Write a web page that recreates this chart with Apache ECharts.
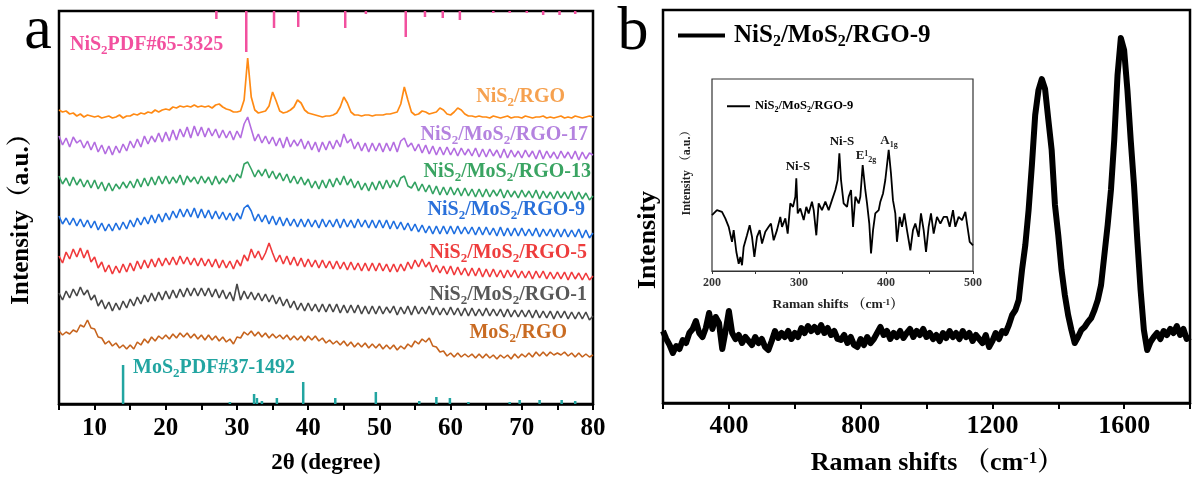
<!DOCTYPE html>
<html><head><meta charset="utf-8">
<script src="https://cdn.jsdelivr.net/npm/echarts@6/dist/echarts.min.js"></script>
<style>html,body{margin:0;padding:0;background:#fff}#c{width:1193px;height:479px}</style>
</head><body><div id="c"></div>
<script>
// ---------- Panel a: XRD ----------
const twoTheta = [5,5.5,6,6.5,7,7.5,8,8.5,9,9.5,10,10.5,11,11.5,12,12.5,13,13.5,14,14.5,15,15.5,16,16.5,17,17.5,18,18.5,19,19.5,20,20.5,21,21.5,22,22.5,23,23.5,24,24.5,25,25.5,26,26.5,27,27.5,28,28.5,29,29.5,30,30.5,31,31.5,32,32.5,33,33.5,34,34.5,35,35.5,36,36.5,37,37.5,38,38.5,39,39.5,40,40.5,41,41.5,42,42.5,43,43.5,44,44.5,45,45.5,46,46.5,47,47.5,48,48.5,49,49.5,50,50.5,51,51.5,52,52.5,53,53.5,54,54.5,55,55.5,56,56.5,57,57.5,58,58.5,59,59.5,60,60.5,61,61.5,62,62.5,63,63.5,64,64.5,65,65.5,66,66.5,67,67.5,68,68.5,69,69.5,70,70.5,71,71.5,72,72.5,73,73.5,74,74.5,75,75.5,76,76.5,77,77.5,78,78.5,79,79.5,80];
const nis2RGO = [294,292,293,290,291,288,290,287,289,288, 287,288,286,287,288,286,287,289,286,288, 288,290,289,291,290,292,291,294,292,294, 295,294,297,296,298,297,298,297,299,297, 298,297,298,296,299,300,297,295,294,292, 292,293,304,346,307,294,291,292,293,298, 312,303,293,291,292,294,297,304,301,294, 291,290,289,288,287,288,288,289,291,297, 307,301,292,289,289,288,289,289,288,289, 289,289,290,290,291,292,300,317,304,292, 289,290,293,292,290,291,292,296,294,290, 289,292,296,294,290,288,288,287,288,287, 287,286,288,287,286,287,288,286,287,287, 286,288,287,286,287,287,288,286,287,286, 287,288,286,287,286,288,287,286,287,288, 287];
const rgo17 = [268,259,266,257,267,261,264,256,263,254, 262,252,259,250,258,249,258,251,260,253, 263,256,265,257,268,260,268,262,271,262, 272,263,274,264,275,267,277,266,278,268, 277,267,276,268,275,266,274,266,273,264, 273,266,280,287,275,263,270,261,268,260, 267,258,266,256,267,257,264,258,265,255, 263,254,262,252,262,254,263,255,264,257, 270,261,265,255,262,253,261,252,261,253, 261,252,261,253,262,252,263,266,257,261, 253,260,251,259,250,258,249,257,249,257, 249,256,248,256,249,255,248,256,247,255, 247,255,248,254,246,255,246,254,247,253, 246,254,247,253,245,254,245,253,246,252, 245,253,246,252,245,253,244,252,245,251, 249];
const rgo13 = [228,220,226,218,227,219,225,217,224,216, 224,215,222,213,221,213,220,215,222,216, 223,216,225,217,226,218,227,219,228,220, 228,220,227,221,229,219,228,222,227,220, 228,221,227,219,228,220,226,221,229,222, 230,226,240,242,235,227,234,228,235,226, 233,225,231,223,230,221,228,220,227,219, 225,216,223,215,224,216,225,217,226,219, 228,219,225,216,223,214,221,213,222,214, 223,215,224,216,224,217,226,228,218,216, 222,213,220,212,219,210,218,209,217,209, 217,209,216,208,216,208,215,207,215,207, 215,207,214,208,215,206,214,207,213,206, 214,207,213,206,214,205,213,206,212,205, 213,206,212,205,213,204,212,205,211,204, 208];
const rgo9 = [188,180,186,179,186,178,185,177,184,176, 183,174,181,173,180,173,181,174,182,175, 184,177,186,179,187,180,189,181,190,182, 191,184,193,186,195,187,195,187,196,186, 195,186,194,185,193,185,192,184,191,183, 191,185,196,199,193,183,190,182,189,180, 188,179,187,178,186,178,185,177,185,177, 185,177,184,176,185,177,184,177,185,176, 185,177,184,176,185,177,184,176,184,176, 184,176,184,175,183,175,182,174,181,173, 180,172,179,171,178,170,178,170,178,170, 178,170,178,170,177,170,177,169,177,169, 177,169,176,168,177,168,176,168,176,168, 176,168,175,168,176,167,175,168,175,167, 175,167,175,167,174,167,175,166,174,166, 171];
const rgo5 = [148,141,152,145,155,147,156,146,154,142, 147,136,142,132,139,130,138,131,140,132, 141,133,143,135,144,136,145,137,146,138, 146,139,147,139,148,140,147,139,146,138, 146,138,145,137,145,136,144,136,143,135, 144,138,149,143,155,146,153,144,151,161, 151,142,149,140,148,139,147,138,146,137, 145,137,144,136,144,136,143,135,143,135, 142,134,142,134,141,133,141,133,141,133, 141,133,140,132,140,132,140,133,142,135, 144,137,145,137,142,132,139,131,138,130, 138,129,137,129,136,128,136,128,136,127, 135,127,135,127,134,126,134,127,134,126, 133,126,133,125,133,126,133,125,132,125, 132,125,132,124,132,125,131,124,131,124, 128];
const rgo1 = [111,104,113,106,115,108,117,109,114,104, 109,98,104,95,102,93,101,94,103,96, 105,98,107,100,109,102,111,103,112,104, 113,105,114,106,115,107,116,108,116,108, 116,108,116,107,115,106,114,105,112,103, 120,104,113,105,112,104,111,103,110,102, 109,100,107,98,105,96,103,94,101,93, 101,93,100,92,100,92,100,92,100,91, 99,91,99,91,99,90,98,90,98,90, 98,90,97,91,98,89,97,90,98,89, 98,90,97,90,98,89,97,89,96,89, 97,89,96,88,96,88,96,88,95,88, 96,88,95,88,95,87,95,87,94,87, 94,87,94,86,94,86,93,86,93,85, 93,86,93,85,92,85,92,85,92,84, 88];
const mos2RGO = [73,69,72,70,74,72,79,77,84,76, 75,67,66,60,63,58,61,56,59,55, 59,55,62,59,65,61,67,63,68,65, 69,65,70,66,71,67,71,66,70,65, 69,64,69,64,68,63,67,62,65,60, 67,66,72,69,73,68,72,67,71,66, 70,66,69,65,69,64,68,64,68,63, 68,64,68,63,66,61,64,60,63,59, 63,58,62,57,61,57,61,56,60,56, 60,55,59,55,59,54,58,55,60,57, 63,60,65,62,66,58,57,52,53,48, 51,47,51,47,50,47,50,46,50,46, 50,46,49,45,49,46,49,45,50,46, 50,47,51,47,52,48,52,48,52,49, 51,49,52,48,51,47,51,47,50,47, 49];
// reference patterns
const nis2RefPos = [27.1,31.3,35.2,38.6,45.2,48.1,53.7,56.4,58.9,61.3,66.0,68.3,70.7,73.0,75.3,77.5];
const nis2RefInt = [8,41,17,16,17,3,26,6,7,9,2,2,2,4,4,3];
const mos2RefPos = [14.0,29.0,32.4,32.8,33.5,35.6,39.3,43.8,49.5,55.6,58.0,59.9,62.5,68.3,69.7,72.5,75.6,77.5];
const mos2RefInt = [39,2,10,6,3,6,22,6,12,3,7,6,2,2,4,4,4,3];
const xrdTicksA = [10,20,30,40,50,60,70,80];

// ---------- Panel b: Raman ----------
const ramanShift = [200,210,220,230,240,250,260,270,280,290,300,310,320,330,340,350,360,370,380,390,400,410,420,430,440,450,460,470,480,490,500,510,520,530,540,550,560,570,580,590,600,610,620,630,640,650,660,670,680,690,700,710,720,730,740,750,760,770,780,790,800,810,820,830,840,850,860,870,880,890,900,910,920,930,940,950,960,970,980,990,1000,1010,1020,1030,1040,1050,1060,1070,1080,1090,1100,1110,1120,1130,1140,1150,1160,1170,1180,1190,1200,1210,1220,1230,1240,1250,1260,1270,1280,1290,1300,1310,1320,1330,1340,1350,1360,1370,1380,1390,1400,1410,1420,1430,1440,1450,1460,1470,1480,1490,1500,1510,1520,1530,1540,1550,1560,1570,1580,1590,1600,1610,1620,1630,1640,1650,1660,1670,1680,1690,1700,1710,1720,1730,1740,1750,1760,1770,1780,1790,1800];
const ramanInt = [72,64,58,50,57,54,63,60,70,74, 82,70,66,75,90,74,86,80,54,72, 92,70,64,68,60,66,62,58,66,60, 64,56,53,62,72,65,70,66,72,64, 70,66,75,70,77,72,76,71,78,70, 75,68,72,64,63,68,60,66,58,56, 64,58,66,60,64,70,76,68,72,64, 70,66,72,65,70,74,66,72,68,74, 66,70,64,68,62,70,65,72,66,70, 64,72,66,70,62,68,64,60,68,56, 62,70,64,72,70,78,88,93,103,133, 158,193,238,288,313,324,314,283,253,198, 168,133,108,88,73,60,66,73,76,81, 85,93,103,118,148,178,213,263,328,365, 353,313,263,218,163,113,73,53,61,66, 70,64,72,68,74,70,77,68,74,64, 66];
// inset (200-500 cm-1)
const insetShift = [200.0,205.7,211.5,215.3,219.2,223.0,224.9,228.0,230.7,232.6,234.5,236.4,240.2,243.3,246.0,248.7,251.7,254.8,257.5,261.3,265.1,267.8,270.9,274.7,278.5,280.5,284.3,287.0,290.0,293.1,295.8,296.9,298.5,301.5,305.4,308.4,311.1,314.9,316.9,319.9,322.6,326.4,330.3,334.1,337.9,341.8,344.4,346.4,348.3,351.3,355.2,357.1,359.8,362.1,364.8,368.6,370.5,373.2,376.2,378.2,380.8,382.8,385.1,387.7,391.6,393.5,396.6,399.2,403.1,405.7,408.0,410.7,412.6,415.7,418.4,421.1,424.1,428.0,431.0,433.7,437.5,440.2,443.3,446.0,449.0,451.7,454.8,458.6,462.5,466.3,470.1,473.2,477.0,479.7,483.5,487.4,491.2,493.1,496.2,500.0];
const insetInt = [29.1,31.7,30.8,27.4,23.0,15.2,21.3,9.9,3.8,7.3,3.0,12.5,18.6,23.9,17.8,7.3,17.8,21.3,14.3,20.4,23.0,24.7,16.0,21.3,28.2,23.0,27.4,19.5,35.2,33.4,38.7,48.3,30.0,32.6,26.5,33.4,30.0,36.1,31.7,18.6,35.2,31.7,36.1,31.7,36.9,42.2,47.4,61.3,47.4,35.2,33.4,38.7,42.2,23.0,38.7,35.2,38.7,55.2,42.2,35.2,24.7,9.1,21.3,30.0,31.7,36.1,40.4,47.4,63.1,50.9,36.9,30.0,15.2,28.2,23.0,30.0,21.3,10.8,21.3,24.7,17.8,30.0,21.3,9.9,23.0,30.0,19.5,28.2,24.7,28.2,28.2,23.0,31.7,23.0,28.2,26.5,30.8,24.7,15.2,13.4];

const FONT = "'Liberation Serif','Times New Roman','Noto Serif CJK SC','Noto Sans CJK SC',serif";
function rich(F, color, weight) {
  weight = weight || 'bold';
  const fs = Math.round(F * 0.65);
  const base = {fontWeight: weight, fontFamily: FONT, color: color, verticalAlign: 'top'};
  return {
    n: Object.assign({fontSize: F, lineHeight: F}, base),
    s: Object.assign({fontSize: fs, lineHeight: fs, padding: [Math.round(F * 0.44), 0, 0, 0]}, base),
    p: Object.assign({fontSize: fs, lineHeight: fs, padding: [0, 0, 0, 0]}, base)
  };
}
function rt(s) {
  let out = '', last = 0, m;
  const re = /([_^])\{([^}]*)\}/g;
  while ((m = re.exec(s))) {
    if (m.index > last) out += '{n|' + s.slice(last, m.index) + '}';
    out += '{' + (m[1] === '_' ? 's' : 'p') + '|' + m[2] + '}';
    last = re.lastIndex;
  }
  if (last < s.length) out += '{n|' + s.slice(last) + '}';
  return out;
}
function txt(text, x, y, F, color, align, extra) {
  return Object.assign({
    type: 'text', x: x, y: y, z: 50,
    style: {text: rt(text), rich: rich(F, color, extra && extra.weight), align: align || 'left', verticalAlign: 'middle', fill: color}
  }, extra && extra.el ? extra.el : {});
}

const C = {
  orange: '#ff8a14', orangeLbl: '#f6a14f',
  purple: '#b36ce0', purpleLbl: '#b482df',
  green: '#33a262', greenLbl: '#3aa462',
  blue: '#1f6fe0', blueLbl: '#2a70da',
  red: '#f03a3c', redLbl: '#ee3d3d',
  gray: '#474747', grayLbl: '#585858',
  brown: '#c6631d', brownLbl: '#c96b22',
  pink: '#f2509f', teal: '#22a5a1'
};

const xrdSeries = [
  ['NiS2/RGO', nis2RGO, C.orange],
  ['NiS2/MoS2/RGO-17', rgo17, C.purple],
  ['NiS2/MoS2/RGO-13', rgo13, C.green],
  ['NiS2/MoS2/RGO-9', rgo9, C.blue],
  ['NiS2/MoS2/RGO-5', rgo5, C.red],
  ['NiS2/MoS2/RGO-1', rgo1, C.gray],
  ['MoS2/RGO', mos2RGO, C.brown]
].map(([name, arr, color]) => ({
  name: name, type: 'line', xAxisIndex: 0, yAxisIndex: 0,
  data: twoTheta.map((t, i) => [t, arr[i]]),
  showSymbol: false, symbol: 'none',
  lineStyle: {color: color, width: name === 'NiS2/RGO' ? 1.7 : 1.6},
  itemStyle: {color: color}, z: 3
}));

const tickLblA = {fontSize: 25, fontWeight: 'bold', fontFamily: FONT, color: '#000'};

const option = {
  backgroundColor: '#fff',
  animation: false,
  grid: [
    {left: 59, top: 11, width: 534, height: 393, show: true, borderColor: '#000', borderWidth: 2.5, backgroundColor: 'transparent'},
    {left: 663, top: 10, width: 529, height: 393, show: true, borderColor: '#000', borderWidth: 2.5, backgroundColor: 'transparent'},
    {left: 712, top: 79, width: 261, height: 192, show: true, borderColor: '#333', borderWidth: 1.2, backgroundColor: 'transparent'}
  ],
  xAxis: [
    {gridIndex: 0, type: 'value', min: 5, max: 80, interval: 5,
     axisLine: {show: true, lineStyle: {color: '#000', width: 2.5}},
     axisTick: {show: true, inside: false, length: 6, lineStyle: {color: '#000', width: 2}},
     axisLabel: Object.assign({margin: 12, formatter: v => xrdTicksA.indexOf(v) >= 0 ? String(v) : ''}, tickLblA),
     splitLine: {show: false}},
    {gridIndex: 1, type: 'value', min: 200, max: 1800, interval: 200,
     axisLine: {show: true, lineStyle: {color: '#000', width: 2.5}},
     axisTick: {show: true, length: 6, lineStyle: {color: '#000', width: 2}},
     axisLabel: {margin: 10, fontSize: 26, fontWeight: 'bold', fontFamily: FONT, color: '#000',
                 formatter: v => (v % 400 === 0 && v < 1800) ? String(v) : ''},
     splitLine: {show: false}},
    {gridIndex: 2, type: 'value', min: 200, max: 500, interval: 50,
     axisLine: {show: true, lineStyle: {color: '#333', width: 1.2}},
     axisTick: {show: true, length: 3, lineStyle: {color: '#333', width: 1}},
     axisLabel: {margin: 6, fontSize: 12, fontWeight: 'bold', fontFamily: FONT, color: '#333',
                 formatter: v => v % 100 === 0 ? String(v) : ''},
     splitLine: {show: false}}
  ],
  yAxis: [
    {gridIndex: 0, type: 'value', min: 0, max: 393, show: false},
    {gridIndex: 0, type: 'value', min: 0, max: 393, inverse: true, show: false},
    {gridIndex: 1, type: 'value', min: 0, max: 393, show: false},
    {gridIndex: 2, type: 'value', min: 0, max: 100, show: false}
  ],
  legend: [
    {data: ['mainRaman'], left: 673, top: 18, icon: 'rect', itemWidth: 47, itemHeight: 4, selectedMode: false,
     formatter: () => rt('NiS_{2}/MoS_{2}/RGO-9'), textStyle: {color: '#000', rich: rich(25, '#000'), padding: [0, 0, 0, 4]}},
    {data: ['insetRaman'], left: 722, top: 95, icon: 'rect', itemWidth: 23, itemHeight: 2, selectedMode: false,
     formatter: () => rt('NiS_{2}/MoS_{2}/RGO-9'), textStyle: {color: '#000', rich: rich(12.5, '#000')}}
  ],
  series: xrdSeries.concat([
    {name: 'NiS2 PDF#65-3325', type: 'bar', xAxisIndex: 0, yAxisIndex: 1, barWidth: 2.5,
     data: nis2RefPos.map((p, i) => [p, nis2RefInt[i]]), itemStyle: {color: C.pink}, z: 4},
    {name: 'MoS2 PDF#37-1492', type: 'bar', xAxisIndex: 0, yAxisIndex: 0, barWidth: 2.5, barGap: '-100%',
     data: mos2RefPos.map((p, i) => [p, mos2RefInt[i]]), itemStyle: {color: C.teal}, z: 4},
    {name: 'mainRaman', type: 'line', xAxisIndex: 1, yAxisIndex: 2, showSymbol: false, symbol: 'none',
     data: ramanShift.map((s, i) => [s, ramanInt[i]]), lineStyle: {color: '#000', width: 6, join: 'round'}, itemStyle: {color: '#000'}},
    {name: 'insetRaman', type: 'line', xAxisIndex: 2, yAxisIndex: 3, showSymbol: false, symbol: 'none',
     data: insetShift.map((s, i) => [s, insetInt[i]]), lineStyle: {color: '#000', width: 1.8}, itemStyle: {color: '#000'}}
  ]),
  graphic: [
    txt('a', 38, 32, 62, '#000', 'center', {weight: 'normal'}),
    txt('b', 633, 33, 62, '#000', 'center', {weight: 'normal'}),
    txt('NiS_{2}PDF#65-3325', 70, 45, 20, C.pink, 'left'),
    txt('MoS_{2}PDF#37-1492', 133, 368, 20, C.teal, 'left'),
    txt('NiS_{2}/RGO', 565, 97, 20, C.orangeLbl, 'right'),
    txt('NiS_{2}/MoS_{2}/RGO-17', 588, 135, 20, C.purpleLbl, 'right'),
    txt('NiS_{2}/MoS_{2}/RGO-13', 591, 172, 20, C.greenLbl, 'right'),
    txt('NiS_{2}/MoS_{2}/RGO-9', 585, 210, 20, C.blueLbl, 'right'),
    txt('NiS_{2}/MoS_{2}/RGO-5', 587, 253, 20, C.redLbl, 'right'),
    txt('NiS_{2}/MoS_{2}/RGO-1', 587, 295, 20, C.grayLbl, 'right'),
    txt('MoS_{2}/RGO', 567, 333, 20, C.brownLbl, 'right'),
    txt('2θ (degree)', 326, 463, 23, '#000', 'center'),
    txt('Raman shifts （cm^{-1}）', 937, 463, 26, '#000', 'center'),
    txt('Intensity（a.u.）', 22, 213, 25, '#000', 'center', {el: {rotation: Math.PI / 2}}),
    txt('Intensity', 648, 240, 26, '#000', 'center', {el: {rotation: Math.PI / 2}}),
    txt('Intensity （a.u.）', 687, 170, 12, '#222', 'center', {el: {rotation: Math.PI / 2}}),
    txt('Raman shifts （cm^{-1}）', 838, 305, 13.5, '#222', 'center'),
    txt('Ni-S', 798, 167, 13, '#111', 'center'),
    txt('Ni-S', 842, 142, 13, '#111', 'center'),
    txt('E^{1}_{2g}', 866, 156, 13, '#222', 'center'),
    txt('A_{1g}', 889, 141, 13, '#222', 'center')
  ]
};
const chart = echarts.init(document.getElementById('c'), null, {renderer: 'canvas'});
chart.setOption(option);
</script>
</body></html>
